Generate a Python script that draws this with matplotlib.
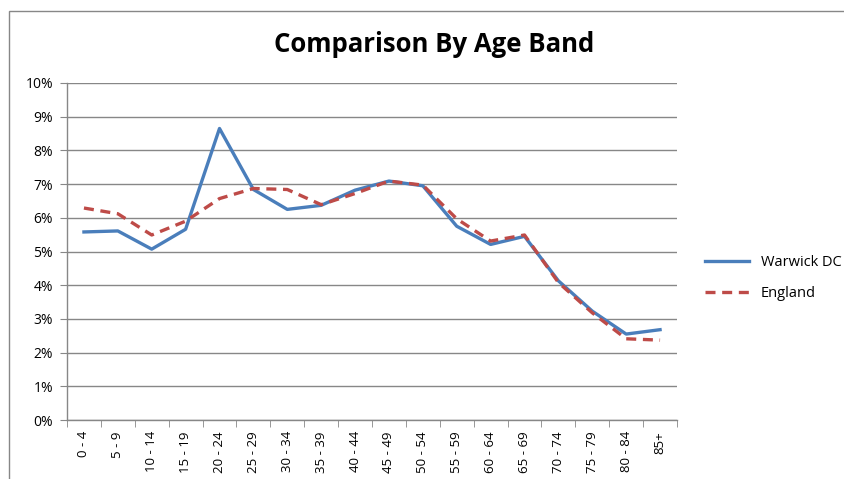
import numpy as np
import matplotlib
matplotlib.use('Agg')
import matplotlib.pyplot as plt
from matplotlib.patches import Rectangle
from matplotlib.ticker import FixedLocator, PercentFormatter

# Data
age_bands = ['0 - 4', '5 - 9', '10 - 14', '15 - 19', '20 - 24', '25 - 29', '30 - 34',
             '35 - 39', '40 - 44', '45 - 49', '50 - 54', '55 - 59', '60 - 64', '65 - 69',
             '70 - 74', '75 - 79', '80 - 84', '85+']
warwick = [5.58, 5.61, 5.07, 5.66, 8.65, 6.84, 6.25, 6.37, 6.82, 7.09, 6.95, 5.75,
           5.21, 5.45, 4.13, 3.23, 2.55, 2.68]
england = [6.29, 6.12, 5.49, 5.90, 6.57, 6.87, 6.84, 6.39, 6.72, 7.09, 6.97, 5.97,
           5.31, 5.49, 4.08, 3.18, 2.41, 2.37]

plt.rcParams['font.family'] = ['Open Sans', 'DejaVu Sans']

fig = plt.figure(figsize=(8.44, 4.79), dpi=100)
ax = fig.add_axes([67/844, 1 - 420/479, 610/844, 337/479])

x = np.arange(len(age_bands))
ax.plot(x, warwick, color='#4A7EBB', lw=2.4, label='Warwick DC')
ax.plot(x, england, color='#BE4B48', lw=2.4, ls=(0, (3, 2)), label='England')

# Axes styling
ax.set_xlim(-0.5, len(age_bands) - 0.5)
ax.set_ylim(0, 10)
ax.yaxis.set_major_locator(FixedLocator(range(0, 11)))
ax.yaxis.set_major_formatter(PercentFormatter(decimals=0))
ax.grid(axis='y', color='#878787', lw=1)
ax.set_axisbelow(True)

ax.set_xticks(x)
ax.set_xticklabels(age_bands, rotation=90, fontsize=9.5)
ax.set_xticks(np.arange(-0.5, len(age_bands)), minor=True)
ax.tick_params(axis='x', which='major', length=0, pad=8)
ax.tick_params(axis='x', which='minor', length=5, color='#878787', direction='out')
ax.tick_params(axis='y', length=5, color='#878787', labelsize=10, pad=5)

for side in ['top', 'right']:
    ax.spines[side].set_visible(False)
for side in ['left', 'bottom']:
    ax.spines[side].set_color('#878787')
    ax.spines[side].set_linewidth(1)

# Title and legend
fig.text(434/844, 1 - 44/479, 'Comparison By Age Band', ha='center', va='center',
         fontsize=18.5, fontweight='bold')
fig.legend(loc='center left', bbox_to_anchor=(692/844, 1 - 278/479), frameon=False,
           fontsize=10.5, handlelength=3.0, labelspacing=1.1)

# Chart border (partially cut off)
fig.patches.append(Rectangle((9/844, -0.1), 1.0, 1 - 11/479 + 0.1,
                             transform=fig.transFigure, fill=False,
                             edgecolor='#878787', lw=1))

plt.savefig('out.png', dpi=100)
